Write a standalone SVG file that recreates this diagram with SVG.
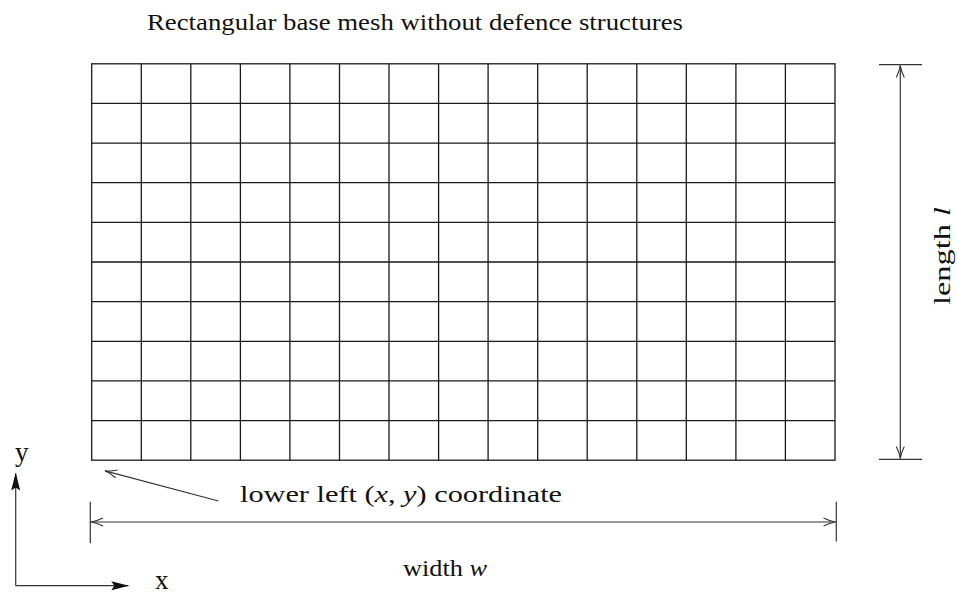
<svg xmlns="http://www.w3.org/2000/svg" width="957" height="596" viewBox="0 0 957 596">
<style>
.grid{stroke:#1a1a1a;stroke-width:1.3;fill:none}
.dim{stroke:#333;stroke-width:1.2;fill:none}
.t{font-family:'Liberation Serif','DejaVu Serif','Times New Roman',serif;font-size:24px;fill:#111}
.ax{font-family:'Liberation Serif','Times New Roman',serif;font-size:27px;fill:#111}
.m{font-style:italic}
</style>
<defs>
<marker id="open" viewBox="0 0 14 10" refX="13" refY="5" markerWidth="14" markerHeight="10" markerUnits="userSpaceOnUse" orient="auto-start-reverse">
<path d="M1,1 Q7,4 13,5 Q7,6 1,9" fill="none" stroke="#333" stroke-width="1.1"/>
</marker>
<marker id="solid" viewBox="0 0 18 10" refX="17" refY="5" markerWidth="18" markerHeight="10" markerUnits="userSpaceOnUse" orient="auto">
<path d="M0,0.5 L18,5 L0,9.5 L3,5 Z" fill="#111"/>
</marker>
</defs>
<rect width="957" height="596" fill="#fff"/>
<text class="t" x="147" y="30" textLength="536" lengthAdjust="spacingAndGlyphs">Rectangular base mesh without defence structures</text>
<g id="mesh" class="grid">
<rect x="91.7" y="63.8" width="743.3" height="396.4"/>
<path d="M141.3,63.8V460.2M190.8,63.8V460.2M240.4,63.8V460.2M289.9,63.8V460.2M339.5,63.8V460.2M389,63.8V460.2M438.6,63.8V460.2M488.1,63.8V460.2M537.7,63.8V460.2M587.2,63.8V460.2M636.8,63.8V460.2M686.3,63.8V460.2M735.9,63.8V460.2M785.4,63.8V460.2"/>
<path d="M91.7,103.4H835M91.7,143.1H835M91.7,182.7H835M91.7,222.4H835M91.7,262H835M91.7,301.6H835M91.7,341.3H835M91.7,380.9H835M91.7,420.6H835"/>
</g>
<g id="connectors">
<g id="length-dim" class="dim">
<path d="M879,64.7H922M879,459.3H922"/>
<line x1="900.3" y1="65.5" x2="900.3" y2="458.5" marker-start="url(#open)" marker-end="url(#open)"/>
</g>
<g id="width-dim" class="dim">
<path d="M90.3,501.7V543.3M836.3,501.7V541.5"/>
<line x1="91" y1="522" x2="835.5" y2="522" marker-start="url(#open)" marker-end="url(#open)"/>
</g>
<line id="pointer" class="dim" x1="218.5" y1="501" x2="105" y2="470.8" marker-end="url(#open)"/>
<g id="axes" class="dim" stroke="#111">
<line x1="15.7" y1="585.7" x2="15.7" y2="473.5" marker-end="url(#solid)"/>
<line x1="15.7" y1="585.7" x2="128.3" y2="585.7" marker-end="url(#solid)"/>
</g>
</g>
<g id="labels">
<text class="ax" x="15" y="461">y</text>
<text class="ax" x="155" y="589" font-size="25">x</text>
<text class="t" x="240" y="502" textLength="322" lengthAdjust="spacingAndGlyphs">lower left (<tspan class="m">x</tspan>, <tspan class="m">y</tspan>) coordinate</text>
<text class="t" x="403" y="576" textLength="84" lengthAdjust="spacingAndGlyphs">width <tspan class="m">w</tspan></text>
<text class="t" transform="translate(950,305) rotate(-90)" textLength="98" lengthAdjust="spacingAndGlyphs">length <tspan class="m">l</tspan></text>
</g>
</svg>
